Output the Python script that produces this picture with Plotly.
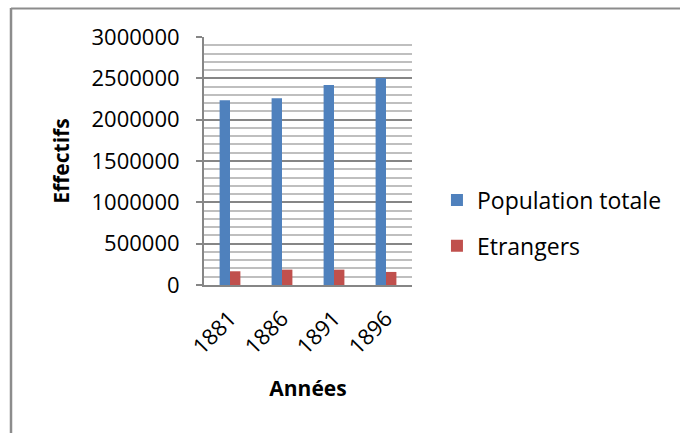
import plotly.graph_objects as go

years = ["1881", "1886", "1891", "1896"]
population_totale = [2234000, 2258000, 2420000, 2505000]
etrangers = [166000, 186000, 186000, 158000]
y_ticks = [0, 500000, 1000000, 1500000, 2000000, 2500000, 3000000]

FONT = "Open Sans"

fig = go.Figure()
fig.add_trace(go.Bar(x=years, y=population_totale, name="Population totale",
                     marker=dict(color="#4F81BD", line=dict(width=0)), legendgroup="a"))
fig.add_trace(go.Bar(x=years, y=etrangers, name="Etrangers",
                     marker=dict(color="#C0504D", line=dict(width=0)), legendgroup="b"))

fig.update_layout(
    width=680, height=433,
    margin=dict(l=204, r=268, t=37, b=148, autoexpand=False),
    paper_bgcolor="white", plot_bgcolor="white",
    barmode="group", bargap=0.6, bargroupgap=0,
    font=dict(family=FONT, color="black", size=22),
    legend=dict(x=1.12, y=0.25, xanchor="left", yanchor="middle",
                font=dict(family=FONT, size=23), tracegroupgap=13,
                itemwidth=30, bgcolor="rgba(0,0,0,0)"),
    xaxis=dict(showline=True, linecolor="#868686", linewidth=2,
               tickangle=-45, tickfont=dict(family=FONT, size=22),
               ticks="", showgrid=False, ticklabelstandoff=10,
               title=dict(text="<b>Années</b>", font=dict(family=FONT, size=21), standoff=22)),
    yaxis=dict(range=[0, 3000000], tickvals=y_ticks, ticktext=[str(v) for v in y_ticks],
               showline=True, linecolor="#868686", linewidth=2,
               ticks="outside", ticklen=6, tickcolor="#868686", tickwidth=2,
               ticklabelstandoff=12,
               showgrid=True, gridcolor="#868686", gridwidth=1.5,
               minor=dict(dtick=100000, showgrid=True, gridcolor="#BFBFBF", gridwidth=1.5),
               tickfont=dict(family=FONT, size=22), zeroline=False,
               title=dict(text="<b>Effectifs</b>", font=dict(family=FONT, size=21), standoff=16)),
)

# outer chart frame (top and left edges visible in reference)
fig.add_shape(type="line", xref="paper", yref="paper",
              x0=(11 - 204) / 208, x1=(690 - 204) / 208,
              y0=(285 - 8.5) / 248, y1=(285 - 8.5) / 248,
              line=dict(color="#8C8C8C", width=2))
fig.add_shape(type="line", xref="paper", yref="paper",
              x0=(11 - 204) / 208, x1=(11 - 204) / 208,
              y0=(285 - 8) / 248, y1=(285 - 440) / 248,
              line=dict(color="#8C8C8C", width=2.5))

fig.write_html("out.html", config={"displayModeBar": False},
               post_script="document.body.style.margin='0px';")
